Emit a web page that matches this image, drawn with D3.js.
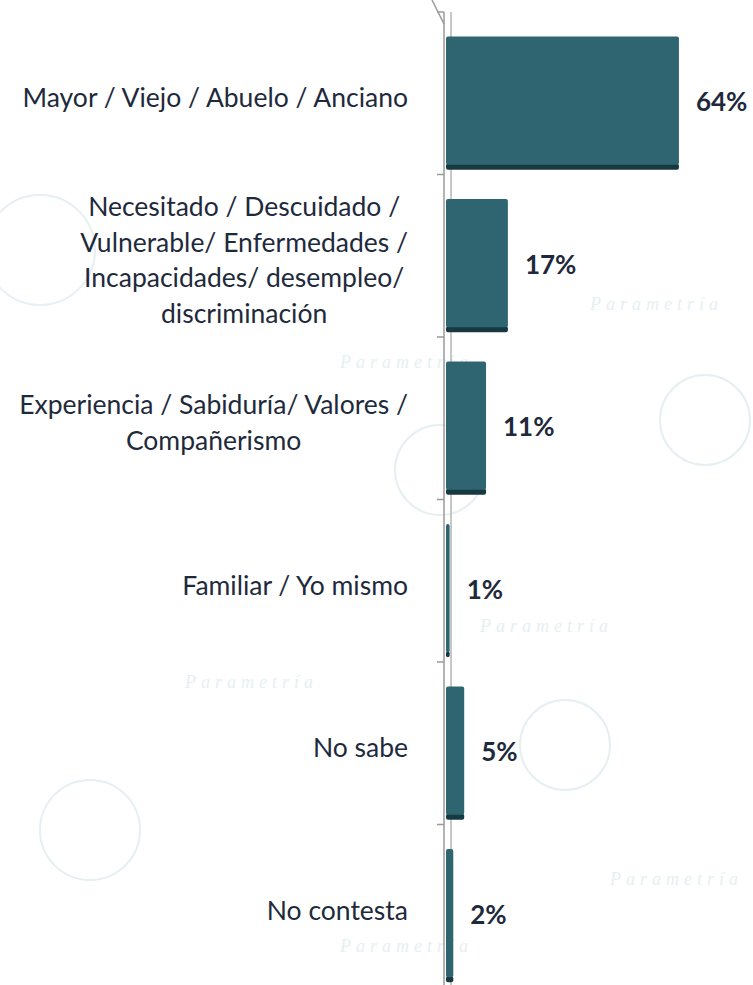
<!DOCTYPE html>
<html>
<head>
<meta charset="utf-8">
<script src="https://cdn.jsdelivr.net/npm/d3@7"></script>
<style>
  body { margin: 0; background: #fff; }
  svg { display: block; }
</style>
</head>
<body>
<svg></svg>
<script>
const categories = [
  ['Mayor / Viejo / Abuelo / Anciano'],
  ['Necesitado / Descuidado /', 'Vulnerable/ Enfermedades /', 'Incapacidades/ desempleo/', 'discriminación'],
  ['Experiencia / Sabiduría/ Valores /', 'Compañerismo'],
  ['Familiar / Yo mismo'],
  ['No sabe'],
  ['No contesta'],
];
const values = [64, 17, 11, 1, 5, 2];
const valueLabels = ['64%', '17%', '11%', '1%', '5%', '2%'];

const WIDTH = 753;
const HEIGHT = 985;
const BAR = '#2e6570';
const BAR_DARK = '#173a42';
const TEXT = '#1e2a3c';

const rows = categories.map((lines, i) => ({ key: i, lines, value: values[i], label: valueLabels[i] }));

const svg = d3.select('svg')
  .attr('width', WIDTH)
  .attr('height', HEIGHT)
  .style('font-family', 'Lato, "Open Sans", sans-serif');

// faint watermark in the background
const wm = svg.append('g').attr('fill', 'none').attr('stroke', '#e6eff2').attr('stroke-width', 2);
[[40, 250, 55], [90, 830, 50], [705, 420, 45], [565, 745, 45], [440, 470, 45]].forEach(([cx, cy, r]) => {
  wm.append('circle').attr('cx', cx).attr('cy', cy).attr('r', r);
});
[[590, 310], [340, 368], [480, 632], [185, 688], [340, 952], [610, 885]].forEach(([x, y]) => {
  svg.append('text').attr('x', x).attr('y', y)
    .attr('fill', '#e6eff2').attr('font-style', 'italic')
    .attr('font-size', 18).attr('letter-spacing', 5)
    .attr('font-family', 'serif')
    .text('Parametría');
});

const y = d3.scaleBand()
  .domain(rows.map(d => d.key))
  .range([12, 987]);

const x = d3.scaleLinear()
  .domain([0, 100])
  .range([446, 810]);

const step = y.step();
const barTop = d => y(d.key) + step * 0.15;
const barH = step * 0.82;

// axis line + ticks at band boundaries
const axis = svg.append('g').attr('stroke', '#9a9a9a').attr('stroke-width', 1.5);
axis.append('line').attr('x1', 444).attr('x2', 444).attr('y1', 12).attr('y2', HEIGHT);
axis.append('line').attr('x1', 444).attr('x2', 437).attr('y1', 12).attr('y2', 12);
axis.append('line').attr('x1', 432).attr('x2', 444).attr('y1', 0).attr('y2', 24);
axis.selectAll('.tick')
  .data(rows.slice(1))
  .enter().append('line')
  .attr('x1', 437).attr('x2', 444)
  .attr('y1', d => y(d.key)).attr('y2', d => y(d.key));
svg.append('line').attr('stroke', '#b5b5b5').attr('stroke-width', 1.5)
  .attr('x1', 451).attr('x2', 451).attr('y1', 12).attr('y2', HEIGHT);

const bars = svg.append('g');
bars.selectAll('.shadow')
  .data(rows)
  .enter().append('rect')
  .attr('x', x(0))
  .attr('y', d => barTop(d) + barH - 6)
  .attr('width', d => x(d.value) - x(0))
  .attr('height', 6)
  .attr('rx', 2)
  .attr('fill', BAR_DARK);
bars.selectAll('.bar')
  .data(rows)
  .enter().append('rect')
  .attr('x', x(0))
  .attr('y', d => barTop(d))
  .attr('width', d => x(d.value) - x(0))
  .attr('height', barH - 5)
  .attr('rx', 2)
  .attr('fill', BAR);

// value labels
svg.selectAll('.val')
  .data(rows)
  .enter().append('text')
  .attr('x', d => x(d.value) + 17)
  .attr('y', d => barTop(d) + barH / 2 + 8)
  .attr('fill', TEXT)
  .attr('font-weight', 'bold')
  .attr('font-size', 26)
  .text(d => d.label);

// category labels: block centred, widest line ending at x = 408
const LH = 35.5;
const labels = svg.selectAll('.cat')
  .data(rows)
  .enter().append('text')
  .attr('fill', TEXT)
  .attr('font-size', 26.5)
  .attr('text-anchor', 'middle');
labels.each(function (d) {
  const t = d3.select(this);
  const cy = barTop(d) + barH / 2 - 5;
  const y0 = cy - (d.lines.length - 1) * LH / 2 + 9;
  d.lines.forEach((line, i) => {
    t.append('tspan').attr('y', y0 + i * LH).text(line);
  });
  const w = d3.max(t.selectAll('tspan').nodes(), n => n.getComputedTextLength());
  t.selectAll('tspan').attr('x', 408 - w / 2);
});
</script>
</body>
</html>
